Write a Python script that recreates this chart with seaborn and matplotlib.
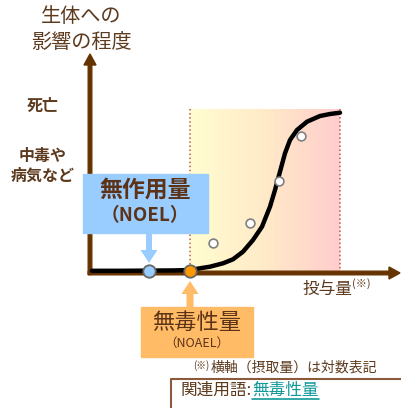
import numpy as np
import matplotlib
matplotlib.use("Agg")
import matplotlib.pyplot as plt
import seaborn as sns
from matplotlib.patches import Rectangle

# ---- data (pixel-like chart units; y grows downward) ----
curve_x = [92, 120, 150, 175, 190, 200, 210, 223, 233, 243, 253, 262, 270, 275, 280, 285, 290, 297, 307, 320, 330, 340]
curve_y = [270.8, 270.8, 270.6, 270.4, 270.0, 268.3, 266.7, 263.3, 259.3, 251.7, 240.0, 226.7, 206.7, 190.0, 171.7, 153.3, 140.0, 130.0, 121.7, 116.0, 114.0, 112.7]
obs_x = [213, 250, 279, 301]
obs_y = [243, 223, 181, 136]
noel_x, noel_y = [149], [271]
noael_x, noael_y = [190], [271]
zone_x = [190, 340]
zone_top = 109
axis_y = 273
axis_x = 90

sns.set_style("white")
plt.rcParams['font.family'] = ['Noto Sans CJK JP', 'DejaVu Sans']

fig = plt.figure(figsize=(4.01, 4.08), dpi=100)
ax = fig.add_axes([0, 0, 1, 1])
ax.set_xlim(0, 401)
ax.set_ylim(408, 0)
ax.axis('off')

brown = '#663300'
txt = '#5C3A1E'

# gradient zone
c = np.array([[255, 253, 208], [255, 234, 200], [255, 205, 205]]) / 255.0
n = 200
t = np.linspace(0, 1, n)
grad = np.zeros((1, n, 3))
for k in range(3):
    grad[0, :, k] = np.interp(t, [0, 0.5, 1], c[:, k])
ax.imshow(grad, extent=[zone_x[0], zone_x[1], axis_y, zone_top], aspect='auto', zorder=0)
for zx in zone_x:
    ax.plot([zx, zx], [zone_top, axis_y], ls=':', color='#C05A3A', lw=1.1, zorder=1)

# axes arrows
ax.arrow(axis_x, axis_y + 1.5, 0, 54 - axis_y - 1.5, width=3.6, head_width=12, head_length=11,
         length_includes_head=True, color=brown, zorder=2)
ax.arrow(axis_x - 1.8, axis_y, 400 - axis_x + 1.8, 0, width=3.6, head_width=12, head_length=11,
         length_includes_head=True, color=brown, zorder=2)

# curve
sns.lineplot(x=curve_x, y=curve_y, sort=False, color='black', lw=3.2, ax=ax, zorder=3,
             solid_capstyle='round', solid_joinstyle='round')
sns.scatterplot(x=obs_x, y=obs_y, s=40, color='white', edgecolor='#808080', linewidth=1.2, ax=ax, zorder=4)
sns.scatterplot(x=noel_x, y=noel_y, s=80, color='#99CCFF', edgecolor='#666666', linewidth=1.3, ax=ax, zorder=5)
sns.scatterplot(x=noael_x, y=noael_y, s=80, color='#FF9900', edgecolor='#666666', linewidth=1.3, ax=ax, zorder=5)

# title and labels
ax.text(81, 17, '生体への', ha='center', va='center', fontsize=14.5, color=txt)
ax.text(82, 43, '影響の程度', ha='center', va='center', fontsize=14.5, color=txt)
ax.text(43, 106, '死亡', ha='center', va='center', fontsize=11.5, color=txt, fontweight='bold')
ax.text(43, 156, '中毒や', ha='center', va='center', fontsize=11.5, color=txt, fontweight='bold')
ax.text(43, 176, '病気など', ha='center', va='center', fontsize=11.5, color=txt, fontweight='bold')

# NOEL box
ax.add_patch(Rectangle((83, 174), 125, 59, color='#99CCFF', zorder=6))
ax.text(145, 190, '無作用量', ha='center', va='center', fontsize=16.5, color='#5C3317', fontweight='bold', zorder=7)
ax.text(145, 216, '（NOEL）', ha='center', va='center', fontsize=13.5, color='#5C3317', fontweight='bold', zorder=7)
ax.arrow(noel_x[0], 233, 0, 263 - 233, width=6, head_width=17, head_length=13,
         length_includes_head=True, color='#99CCFF', lw=0, zorder=6)

# NOAEL box
ax.add_patch(Rectangle((141, 307), 112, 50, color='#FFBB66', zorder=6))
ax.text(197, 322, '無毒性量', ha='center', va='center', fontsize=16, color='#5C3317', zorder=7)
ax.text(197, 343, '（NOAEL）', ha='center', va='center', fontsize=9, color='#5C3317', zorder=7)
ax.arrow(noael_x[0], 307, 0, 281 - 307, width=7, head_width=17, head_length=13,
         length_includes_head=True, color='#FFBB66', lw=0, zorder=6)

# x axis label
ax.text(302, 289, '投与量', ha='left', va='center', fontsize=12, color=txt)
ax.text(352, 284, '(※)', ha='left', va='center', fontsize=8, color=txt)

# note
ax.text(193, 366, '(※)', ha='left', va='center', fontsize=7, color=txt)
ax.text(211, 368, '横軸（摂取量）は対数表記', ha='left', va='center', fontsize=10, color=txt)

# related terms box
ax.plot([171, 171, 401], [408, 379, 379], color='#8B5A3A', lw=1.5, zorder=2)
t1 = ax.text(180, 390, '関連用語:', ha='left', va='center', fontsize=12, color=txt)
fig.canvas.draw()
r = fig.canvas.get_renderer()
bb = t1.get_window_extent(r)
x_end = ax.transData.inverted().transform((bb.x1, bb.y0))[0]
t2 = ax.text(x_end + 1, 390, '無毒性量', ha='left', va='center', fontsize=12, color='#119999')
fig.canvas.draw()
bb2 = t2.get_window_extent(r)
(x0, _), (x1, _) = ax.transData.inverted().transform([(bb2.x0, bb2.y0), (bb2.x1, bb2.y0)])
ax.plot([x0, x1], [399, 399], color='#119999', lw=1.2)

fig.savefig('out.png', dpi=100)
